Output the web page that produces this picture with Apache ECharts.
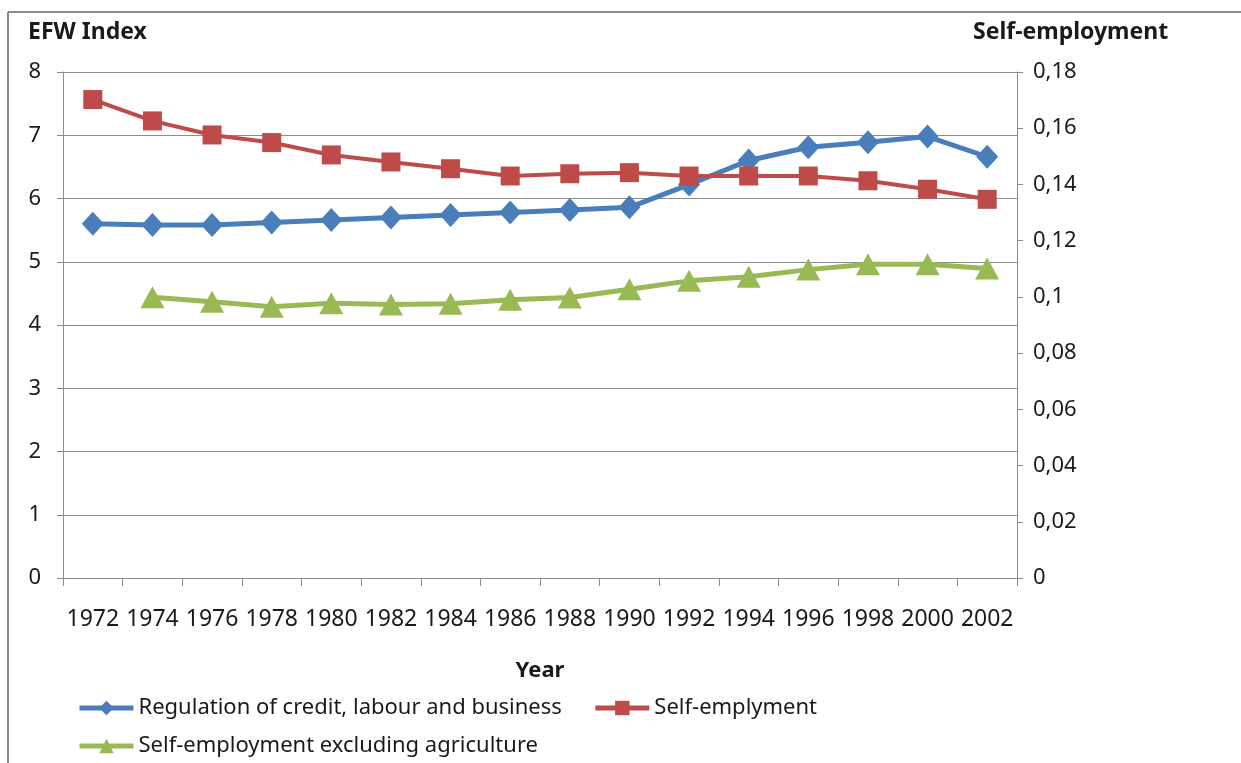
<!DOCTYPE html>
<html>
<head>
<meta charset="utf-8">
<script src="https://cdn.jsdelivr.net/npm/echarts@6/dist/echarts.min.js"></script>
<style>
html,body{margin:0;padding:0;background:#fff;}
#chart{width:1241px;height:763px;}
</style>
</head>
<body>
<div id="chart"></div>
<script>
const years = ['1972','1974','1976','1978','1980','1982','1984','1986','1988','1990','1992','1994','1996','1998','2000','2002'];
const regulation = [5.60, 5.58, 5.58, 5.62, 5.66, 5.70, 5.74, 5.78, 5.82, 5.86, 6.22, 6.60, 6.81, 6.89, 6.98, 6.66];
const selfEmployment = [0.1702, 0.1626, 0.1576, 0.1549, 0.1505, 0.1480, 0.1456, 0.1430, 0.1438, 0.1442, 0.1430, 0.1430, 0.1430, 0.1413, 0.1383, 0.1347];
const selfEmploymentExAgri = [null, 0.0999, 0.0983, 0.0965, 0.0977, 0.0973, 0.0976, 0.0990, 0.0998, 0.1027, 0.1057, 0.1072, 0.1097, 0.1116, 0.1116, 0.1101];
const leftTicks = {min: 0, max: 8, interval: 1};
const rightTicks = {min: 0, max: 0.18, interval: 0.02};

const FONT = 'Noto Sans';
const chart = echarts.init(document.getElementById('chart'));
const gridColor = '#8c8c8c';
const txt = '#1a1a1a';

chart.setOption({
  animation: false,
  backgroundColor: '#fff',
  textStyle: {fontFamily: FONT},
  graphic: [
    {type: 'line', shape: {x1: 8, y1: 12, x2: 1241, y2: 12}, style: {stroke: '#8a8a8a', lineWidth: 2}},
    {type: 'line', shape: {x1: 8, y1: 12, x2: 8, y2: 763}, style: {stroke: '#8a8a8a', lineWidth: 2}}
  ],
  grid: {left: 63, right: 224, top: 72, bottom: 185, containLabel: false, outerBoundsMode: 'none'},
  legend: [
    {
      data: ['Regulation of credit, labour and business', 'Self-emplyment'],
      left: 72, top: 692, orient: 'horizontal',
      itemWidth: 54, itemHeight: 18, itemGap: 31,
      lineStyle: {width: 5},
      textStyle: {fontFamily: FONT, fontSize: 22, color: txt},
      selectedMode: false
    },
    {
      data: ['Self-employment excluding agriculture'],
      left: 72, top: 730, orient: 'horizontal',
      itemWidth: 54, itemHeight: 18,
      lineStyle: {width: 5},
      textStyle: {fontFamily: FONT, fontSize: 22, color: txt},
      selectedMode: false
    }
  ],
  xAxis: {
    type: 'category',
    data: years,
    boundaryGap: true,
    name: 'Year',
    nameLocation: 'middle',
    nameGap: 82,
    nameTextStyle: {fontFamily: FONT, fontSize: 22, fontWeight: 'bold', color: txt},
    axisLine: {lineStyle: {color: gridColor, width: 1}},
    axisTick: {show: true, length: 8, alignWithLabel: false, lineStyle: {color: gridColor}},
    axisLabel: {interval: 0, margin: 30, fontSize: 23, color: txt, fontFamily: FONT},
    splitLine: {show: false}
  },
  yAxis: [
    {
      type: 'value',
      min: leftTicks.min, max: leftTicks.max, interval: leftTicks.interval,
      position: 'left',
      name: 'EFW Index',
      nameLocation: 'end',
      nameGap: 28,
      nameTextStyle: {fontFamily: FONT, fontSize: 23, fontWeight: 'bold', color: txt, align: 'left', padding: [0, 0, 0, -35]},
      axisLine: {show: true, lineStyle: {color: gridColor, width: 1}},
      axisTick: {show: true, length: 6, lineStyle: {color: gridColor}},
      axisLabel: {margin: 22, fontSize: 22, color: txt, fontFamily: FONT},
      splitLine: {show: true, lineStyle: {color: gridColor, width: 1}}
    },
    {
      type: 'value',
      min: rightTicks.min, max: rightTicks.max, interval: rightTicks.interval,
      position: 'right',
      name: 'Self-employment',
      nameLocation: 'end',
      nameGap: 28,
      nameTextStyle: {fontFamily: FONT, fontSize: 23, fontWeight: 'bold', color: txt, align: 'left', padding: [0, 0, 0, -44]},
      axisLine: {show: true, lineStyle: {color: gridColor, width: 1}},
      axisTick: {show: true, length: 6, lineStyle: {color: gridColor}},
      axisLabel: {
        margin: 16, fontSize: 22, color: txt, fontFamily: FONT,
        formatter: v => String(Math.round(v * 100) / 100).replace('.', ',')
      },
      splitLine: {show: false}
    }
  ],
  series: [
    {
      name: 'Regulation of credit, labour and business',
      type: 'line', yAxisIndex: 0, data: regulation,
      symbol: 'diamond', symbolSize: [22, 24], showAllSymbol: true,
      lineStyle: {color: '#4a7ebb', width: 5},
      itemStyle: {color: '#4a7ebb'}
    },
    {
      name: 'Self-emplyment',
      type: 'line', yAxisIndex: 1, data: selfEmployment,
      symbol: 'rect', symbolSize: 19, showAllSymbol: true,
      lineStyle: {color: '#be4b48', width: 4},
      itemStyle: {color: '#be4b48'}
    },
    {
      name: 'Self-employment excluding agriculture',
      type: 'line', yAxisIndex: 1, data: selfEmploymentExAgri,
      symbol: 'triangle', symbolSize: [24, 22], showAllSymbol: true,
      lineStyle: {color: '#98b954', width: 5},
      itemStyle: {color: '#98b954'}
    }
  ]
});
</script>
</body>
</html>
